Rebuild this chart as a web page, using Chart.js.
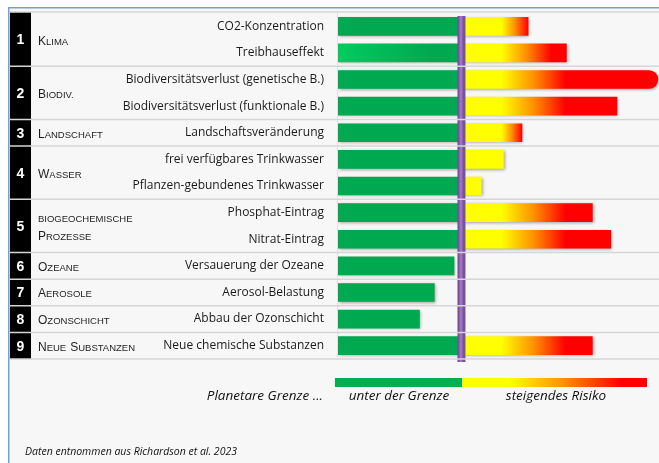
<!DOCTYPE html>
<html>
<head>
<meta charset="utf-8">
<script src="https://cdn.jsdelivr.net/npm/chart.js@4"></script>
<style>
  html, body { margin: 0; padding: 0; background: #fff; }
  canvas { display: block; }
</style>
</head>
<body>
<canvas id="boundsChart" width="659" height="463"></canvas>
<script>
const itemLabels = [
    'CO2-Konzentration',
    'Treibhauseffekt',
    'Biodiversitätsverlust (genetische B.)',
    'Biodiversitätsverlust (funktionale B.)',
    'Landschaftsveränderung',
    'frei verfügbares Trinkwasser',
    'Pflanzen-gebundenes Trinkwasser',
    'Phosphat-Eintrag',
    'Nitrat-Eintrag',
    'Versauerung der Ozeane',
    'Aerosol-Belastung',
    'Abbau der Ozonschicht',
    'Neue chemische Substanzen'
];
const groupNumbers = ['1', '2', '3', '4', '5', '6', '7', '8', '9'];
const groupNames = [
    ['Klima'], ['Biodiv.'], ['Landschaft'], ['Wasser'],
    ['Biogeochemische', 'Prozesse'], ['Ozeane'], ['Aerosole'], ['Ozonschicht'], ['Neue Substanzen']
];
const groupOf = [0, 0, 1, 1, 2, 3, 3, 4, 4, 5, 6, 7, 8];

// 1 = planetary boundary
const boundary = 1;
const belowBoundary = [1, 1, 1, 1, 1, 1, 1, 1, 1, 0.94, 0.78, 0.66, 1];
const beyondBoundary = [1.54, 1.85, 2.59, 2.26, 1.49, 1.34, 1.16, 2.06, 2.21, null, null, null, 2.06];

const legendLabels = ['Planetare Grenze ...', 'unter der Grenze', 'steigendes Risiko'];
const sourceNote = 'Daten entnommen aus Richardson et al. 2023';

const FONT = "'Liberation Sans', Arial, sans-serif";
const TEXT_FONT = "'Open Sans', 'Noto Sans', sans-serif";
const GREEN = '#00a94f';

function riskGradient(ctx, s, e) {
    const len = e - s;
    if (len <= 45) return '#ffff00';
    const g = ctx.createLinearGradient(s, 0, e, 0);
    const yl = 36 / len;
    const rd = Math.min(len, Math.max(65, Math.min(0.85 * len, 100))) / len;
    g.addColorStop(0, '#ffff00');
    g.addColorStop(yl, '#ffff00');
    g.addColorStop((yl + rd) / 2, '#ff9000');
    g.addColorStop(rd, '#ff0000');
    g.addColorStop(1, '#ff0000');
    return g;
}

function drawSmallCaps(ctx, text, x, y, big, small) {
    ctx.textAlign = 'left';
    ctx.textBaseline = 'alphabetic';
    text.split(' ').forEach(word => {
        ctx.font = big + 'px ' + FONT;
        ctx.fillText(word[0].toUpperCase(), x, y);
        x += ctx.measureText(word[0].toUpperCase()).width;
        ctx.font = small + 'px ' + FONT;
        const rest = word.slice(1).toUpperCase();
        ctx.fillText(rest, x, y);
        x += ctx.measureText(rest).width + 4;
    });
}

const framePlugin = {
    id: 'frame',
    beforeDraw(chart) {
        const ctx = chart.ctx;
        ctx.save();
        ctx.fillStyle = '#ffffff';
        ctx.fillRect(0, 0, chart.width, chart.height);
        ctx.fillStyle = '#f7f7f7';
        ctx.fillRect(9, 8, chart.width, chart.height);
        ctx.fillStyle = '#6fa3d8';
        ctx.fillRect(8, 7, chart.width, 1.5);
        ctx.fillRect(8, 7, 1.5, chart.height);
        ctx.restore();
    },
    beforeDatasetsDraw(chart) {
        const ctx = chart.ctx;
        const { top, bottom, left } = chart.chartArea;
        ctx.save();
        ctx.strokeStyle = '#e2e2e2';
        ctx.lineWidth = 1;
        ctx.beginPath();
        ctx.moveTo(left - 0.5, top);
        ctx.lineTo(left - 0.5, bottom);
        ctx.stroke();
        ctx.restore();
        ctx.save();
        ctx.shadowColor = 'rgba(0,0,0,0.35)';
        ctx.shadowBlur = 3;
        ctx.shadowOffsetX = 1;
        ctx.shadowOffsetY = 1;
    },
    afterDatasetsDraw(chart) {
        const ctx = chart.ctx;
        ctx.restore();
        const { top, bottom, right } = chart.chartArea;
        const x = chart.scales.x;
        const y = chart.scales.y;

        // planetary boundary line
        const bx = x.getPixelForValue(boundary);
        ctx.save();
        ctx.fillStyle = '#7a4f9e';
        ctx.fillRect(bx - 4, top + 3, 8, bottom - top);
        ctx.fillStyle = '#9a75bd';
        ctx.fillRect(bx - 2, top + 3, 3, bottom - top);
        ctx.restore();

        // black number column
        ctx.save();
        ctx.fillStyle = '#000';
        ctx.fillRect(10, top - 1, 21, bottom - top + 1);

        // separators
        const seps = [top - 1, bottom];
        for (let i = 0; i < groupOf.length - 1; i++) {
            if (groupOf[i] !== groupOf[i + 1]) {
                seps.push((y.getPixelForValue(i) + y.getPixelForValue(i + 1)) / 2);
            }
        }
        ctx.strokeStyle = '#d6d6d6';
        ctx.lineWidth = 1.5;
        seps.forEach(sy => {
            ctx.beginPath();
            ctx.moveTo(10, sy);
            ctx.lineTo(right, sy);
            ctx.stroke();
        });

        // group numbers and names
        groupNames.forEach((lines, gi) => {
            const rows = groupOf.map((g, i) => g === gi ? i : -1).filter(i => i >= 0);
            const cy = (y.getPixelForValue(rows[0]) + y.getPixelForValue(rows[rows.length - 1])) / 2;
            ctx.fillStyle = '#fff';
            ctx.font = 'bold 14px ' + FONT;
            ctx.textAlign = 'center';
            ctx.textBaseline = 'middle';
            ctx.fillText(groupNumbers[gi], 20.5, cy + 1);
            ctx.fillStyle = '#1e1e1e';
            lines.forEach((line, li) => {
                const ly = cy + 5 + (li - (lines.length - 1) / 2) * 18;
                const big = lines.length > 1 && li === 0 ? 9.5 : 12;
                drawSmallCaps(ctx, line, 38, ly, big, 9.5);
            });
        });

        // legend
        const ly = 378;
        ctx.fillStyle = '#00b050';
        ctx.fillRect(335, ly, 127, 9);
        const lg = ctx.createLinearGradient(462, 0, 647, 0);
        lg.addColorStop(0, '#ffff00');
        lg.addColorStop(0.26, '#ffff00');
        lg.addColorStop(0.55, '#ff9000');
        lg.addColorStop(0.86, '#ff0000');
        lg.addColorStop(1, '#ff0000');
        ctx.fillStyle = lg;
        ctx.fillRect(462, ly, 185, 9);

        ctx.fillStyle = '#111';
        ctx.textBaseline = 'middle';
        ctx.font = 'italic 13.5px ' + TEXT_FONT;
        ctx.textAlign = 'right';
        ctx.fillText(legendLabels[0], 323, 396);
        ctx.textAlign = 'center';
        ctx.fillText(legendLabels[1], 399, 396);
        ctx.fillText(legendLabels[2], 556, 396);

        ctx.font = 'italic 10.5px ' + TEXT_FONT;
        ctx.textAlign = 'left';
        ctx.fillText(sourceNote, 25, 452);
        ctx.restore();
    }
};

new Chart(document.getElementById('boundsChart'), {
    type: 'bar',
    data: {
        labels: itemLabels,
        datasets: [{
            label: legendLabels[1],
            data: belowBoundary,
            grouped: false,
            barThickness: 18,
            backgroundColor: (c) => {
                const chart = c.chart;
                if (c.dataIndex !== 1 || !chart.chartArea) return GREEN;
                const g = chart.ctx.createLinearGradient(chart.chartArea.left, 0, 430, 0);
                g.addColorStop(0, '#00cc5e');
                g.addColorStop(1, GREEN);
                return g;
            }
        }, {
            label: legendLabels[2],
            data: beyondBoundary.map(v => v == null ? null : [boundary, v]),
            grouped: false,
            barThickness: 18,
            borderSkipped: false,
            borderRadius: (c) => c.raw && c.raw[1] > 2.5 ? { topLeft: 0, bottomLeft: 0, topRight: 9, bottomRight: 9 } : 0,
            backgroundColor: (c) => {
                const chart = c.chart;
                if (!chart.chartArea || !c.raw) return '#ffff00';
                const x = chart.scales.x;
                return riskGradient(chart.ctx, x.getPixelForValue(c.raw[0]) + 4, x.getPixelForValue(c.raw[1]));
            }
        }]
    },
    options: {
        indexAxis: 'y',
        responsive: false,
        animation: false,
        devicePixelRatio: 1,
        layout: { padding: { top: 13, bottom: 104, left: 0, right: 0 } },
        plugins: {
            legend: { display: false },
            tooltip: { enabled: false }
        },
        scales: {
            x: {
                display: false,
                min: 0,
                max: 2.6
            },
            y: {
                afterFit: (scale) => {
                    scale.width = 338;
                    scale.paddingTop = 0;
                    scale.paddingBottom = 0;
                },
                grid: { display: false, drawTicks: false },
                border: { display: false },
                ticks: {
                    padding: 14,
                    color: '#1a1a1a',
                    font: { family: TEXT_FONT, size: 12 }
                }
            }
        }
    },
    plugins: [framePlugin]
});
</script>
</body>
</html>
